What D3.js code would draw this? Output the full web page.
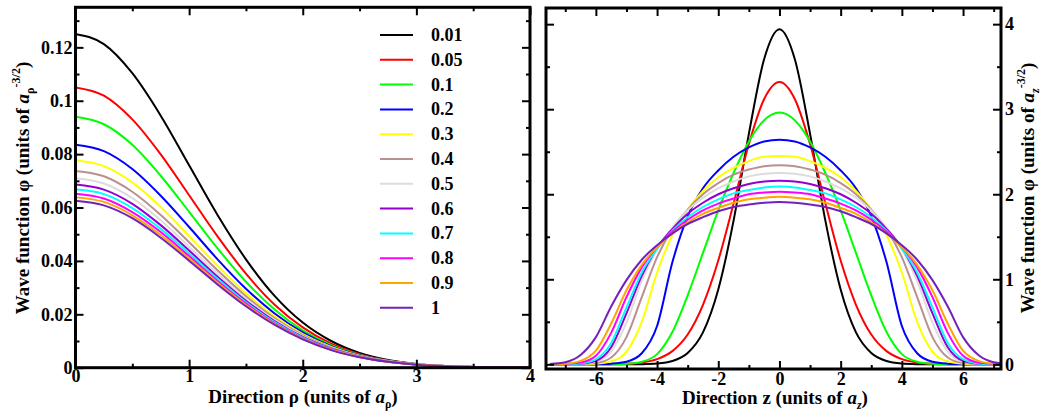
<!DOCTYPE html>
<html lang="en">
<head>
<meta charset="UTF-8">
<title>Wave function profiles</title>
<script src="https://d3js.org/d3.v7.min.js"></script>
<style>
  body { margin: 0; background: #fff; }
  svg text { font-family: "Liberation Serif", "Times New Roman", serif; font-weight: bold; fill: #000; }
</style>
</head>
<body>
<svg width="1041" height="412"></svg>
<script>
// series labels and xmgrace colours
const labels = ["0.01", "0.05", "0.1", "0.2", "0.3", "0.4", "0.5", "0.6", "0.7", "0.8", "0.9", "1"];
const colors = ["#000000", "#ff0000", "#00ff00", "#0000ff", "#ffff00", "#bc8f8f",
                "#dcdcdc", "#9400d3", "#00ffff", "#ff00ff", "#ffa500", "#7221bc"];

// left panel: radial profile, read at rho = 0, 0.25, ... 4
const rhoGrid = [0, 0.25, 0.5, 0.75, 1, 1.25, 1.5, 1.75, 2, 2.25, 2.5, 2.75, 3, 3.25, 3.5, 3.75, 4];
const rho_001 = [0.1250, 0.1212, 0.1103, 0.0944, 0.0758, 0.0572, 0.0406, 0.0270, 0.0169, 0.0100, 0.0055, 0.0029, 0.0014, 0.0006, 0.0003, 0.0001, 0.0000];
const rho_005 = [0.1050, 0.1019, 0.0930, 0.0799, 0.0646, 0.0492, 0.0352, 0.0237, 0.0151, 0.0090, 0.0051, 0.0027, 0.0013, 0.0006, 0.0003, 0.0001, 0.0000];
const rho_01  = [0.0940, 0.0912, 0.0835, 0.0719, 0.0584, 0.0447, 0.0322, 0.0219, 0.0140, 0.0084, 0.0048, 0.0026, 0.0013, 0.0006, 0.0003, 0.0001, 0.0000];
const rho_02  = [0.0835, 0.0811, 0.0744, 0.0644, 0.0527, 0.0406, 0.0296, 0.0204, 0.0132, 0.0081, 0.0047, 0.0026, 0.0013, 0.0006, 0.0003, 0.0001, 0.0001];
const rho_03  = [0.0777, 0.0755, 0.0694, 0.0602, 0.0493, 0.0382, 0.0279, 0.0193, 0.0126, 0.0078, 0.0045, 0.0025, 0.0013, 0.0006, 0.0003, 0.0001, 0.0001];
const rho_04  = [0.0737, 0.0717, 0.0659, 0.0572, 0.0470, 0.0365, 0.0268, 0.0186, 0.0122, 0.0075, 0.0044, 0.0024, 0.0013, 0.0006, 0.0003, 0.0001, 0.0001];
const rho_05  = [0.0710, 0.0690, 0.0635, 0.0552, 0.0453, 0.0352, 0.0259, 0.0180, 0.0118, 0.0073, 0.0043, 0.0024, 0.0013, 0.0006, 0.0003, 0.0001, 0.0001];
const rho_06  = [0.0686, 0.0667, 0.0614, 0.0534, 0.0439, 0.0341, 0.0251, 0.0175, 0.0115, 0.0072, 0.0042, 0.0023, 0.0012, 0.0006, 0.0003, 0.0001, 0.0001];
const rho_07  = [0.0668, 0.0650, 0.0598, 0.0520, 0.0428, 0.0333, 0.0245, 0.0171, 0.0113, 0.0070, 0.0041, 0.0023, 0.0012, 0.0006, 0.0003, 0.0001, 0.0001];
const rho_08  = [0.0652, 0.0634, 0.0583, 0.0508, 0.0418, 0.0325, 0.0240, 0.0167, 0.0110, 0.0069, 0.0040, 0.0022, 0.0012, 0.0006, 0.0003, 0.0001, 0.0001];
const rho_09  = [0.0638, 0.0621, 0.0571, 0.0497, 0.0409, 0.0318, 0.0235, 0.0164, 0.0108, 0.0067, 0.0040, 0.0022, 0.0012, 0.0006, 0.0003, 0.0001, 0.0001];
const rho_1   = [0.0625, 0.0608, 0.0560, 0.0487, 0.0401, 0.0312, 0.0230, 0.0161, 0.0106, 0.0066, 0.0039, 0.0022, 0.0011, 0.0005, 0.0002, 0.0001, 0.0000];

// right panel: axial profile, symmetric, read at z = 0, 0.5, ... 7.5
const zGrid = [0, 0.5, 1, 1.5, 2, 2.5, 3, 3.5, 4, 4.5, 5, 5.5, 6, 6.5, 7, 7.5];
const z_001 = [3.94, 3.59, 2.71, 1.69, 0.88, 0.376, 0.134, 0.039, 0.0096, 0.002, 0, 0, 0, 0, 0, 0];
const z_005 = [3.32, 3.12, 2.59, 1.89, 1.22, 0.70, 0.35, 0.155, 0.061, 0.021, 0.006, 0.002, 0, 0, 0, 0];
const z_01  = [2.96, 2.87, 2.62, 2.25, 1.81, 1.31, 0.81, 0.38, 0.12, 0.03, 0.006, 0, 0, 0, 0, 0];
const z_02  = [2.64, 2.62, 2.55, 2.44, 2.28, 2.07, 1.74, 1.20, 0.45, 0.13, 0.03, 0.008, 0.002, 0, 0, 0];
const z_03  = [2.45, 2.44, 2.39, 2.31, 2.20, 2.04, 1.82, 1.52, 1.08, 0.50, 0.15, 0.035, 0.006, 0, 0, 0];
const z_04  = [2.34, 2.33, 2.29, 2.23, 2.13, 2.00, 1.82, 1.59, 1.26, 0.79, 0.32, 0.08, 0.015, 0.003, 0, 0];
const z_05  = [2.25, 2.24, 2.21, 2.15, 2.07, 1.96, 1.81, 1.61, 1.35, 0.98, 0.49, 0.15, 0.03, 0.006, 0, 0];
const z_06  = [2.16, 2.15, 2.12, 2.07, 2.00, 1.90, 1.77, 1.59, 1.37, 1.04, 0.60, 0.20, 0.04, 0.007, 0, 0];
const z_07  = [2.09, 2.08, 2.05, 2.01, 1.94, 1.85, 1.73, 1.57, 1.36, 1.08, 0.67, 0.25, 0.06, 0.01, 0, 0];
const z_08  = [2.03, 2.02, 2.00, 1.95, 1.89, 1.81, 1.70, 1.56, 1.38, 1.14, 0.79, 0.37, 0.10, 0.02, 0.004, 0];
const z_09  = [1.97, 1.96, 1.94, 1.90, 1.84, 1.77, 1.67, 1.54, 1.38, 1.17, 0.87, 0.48, 0.16, 0.04, 0.007, 0];
const z_1   = [1.91, 1.90, 1.88, 1.85, 1.80, 1.73, 1.65, 1.54, 1.40, 1.23, 0.99, 0.68, 0.32, 0.11, 0.025, 0.005];

// tick values
const rhoTicks = [0, 1, 2, 3, 4], rhoMinor = [0.5, 1.5, 2.5, 3.5];
const phiRhoTicks = [0, 0.02, 0.04, 0.06, 0.08, 0.1, 0.12];
const phiRhoMinor = [0.01, 0.03, 0.05, 0.07, 0.09, 0.11, 0.13];
const zTicks = [-6, -4, -2, 0, 2, 4, 6], zMinor = [-7, -5, -3, -1, 1, 3, 5, 7];
const phiZTicks = [0, 1, 2, 3, 4], phiZMinor = [0.5, 1.5, 2.5, 3.5];

const rhoSeries = [rho_001, rho_005, rho_01, rho_02, rho_03, rho_04, rho_05, rho_06, rho_07, rho_08, rho_09, rho_1];
const zSeries = [z_001, z_005, z_01, z_02, z_03, z_04, z_05, z_06, z_07, z_08, z_09, z_1];

const FONT = "'Liberation Serif', 'Times New Roman', serif";
const svg = d3.select("svg");

// scales
const xL = d3.scaleLinear().domain([0, 4]).range([75.5, 530]);
const yL = d3.scaleLinear().domain([0, 0.135]).range([367.7, 7.3]);
const xR = d3.scaleLinear().domain([-7.63, 7.24]).range([546, 1001]);
const yR = d3.scaleLinear().domain([-0.055, 4.19]).range([369, 8]);

function clip(x, y, id) {
    const [x0, x1] = x.range(), [y0, y1] = y.range();
    svg.append("clipPath").attr("id", id).append("rect")
        .attr("x", x0).attr("y", y1).attr("width", x1 - x0).attr("height", y0 - y1);
}

function axes(x, y, xt, xm, yt, ym, xfmt, yfmt, yLabelsRight, xPad) {
    const [x0, x1] = x.range(), [y0, y1] = y.range();
    const mk = (gen, tr) => {
        const g = svg.append("g").attr("transform", tr).call(gen);
        g.select(".domain").remove();
        g.selectAll("line").attr("stroke", "#000").attr("stroke-width", 2);
        g.selectAll("text").attr("font-family", FONT).attr("font-weight", "bold")
            .attr("font-size", 18).attr("fill", "#000");
        return g;
    };
    mk(d3.axisBottom(x).tickValues(xt).tickSize(-8).tickPadding(xPad).tickFormat(xfmt), `translate(0,${y0})`);
    mk(d3.axisBottom(x).tickValues(xm).tickSize(-4).tickFormat(""), `translate(0,${y0})`);
    mk(d3.axisTop(x).tickValues(xt).tickSize(-8).tickFormat(""), `translate(0,${y1})`);
    mk(d3.axisTop(x).tickValues(xm).tickSize(-4).tickFormat(""), `translate(0,${y1})`);
    mk(d3.axisLeft(y).tickValues(yt).tickSize(-8).tickPadding(3).tickFormat(yLabelsRight ? "" : yfmt), `translate(${x0},0)`);
    mk(d3.axisLeft(y).tickValues(ym).tickSize(-4).tickFormat(""), `translate(${x0},0)`);
    mk(d3.axisRight(y).tickValues(yt).tickSize(-8).tickPadding(4).tickFormat(yLabelsRight ? yfmt : ""), `translate(${x1},0)`);
    mk(d3.axisRight(y).tickValues(ym).tickSize(-4).tickFormat(""), `translate(${x1},0)`);
    svg.append("rect").attr("x", x0).attr("y", y1).attr("width", x1 - x0).attr("height", y0 - y1)
        .attr("fill", "none").attr("stroke", "#000").attr("stroke-width", 3);
}

// left panel curves
clip(xL, yL, "clipL");
const lineL = d3.line().x(d => xL(d[0])).y(d => yL(d[1])).curve(d3.curveMonotoneX);
svg.append("g").attr("clip-path", "url(#clipL)")
    .selectAll("path").data(rhoSeries).join("path")
    .attr("d", s => lineL(rhoGrid.map((r, i) => [r, s[i]])))
    .attr("fill", "none").attr("stroke", (d, i) => colors[i]).attr("stroke-width", 2);

// right panel curves (profile is mirror symmetric in z)
clip(xR, yR, "clipR");
const lineR = d3.line().x(d => xR(d[0])).y(d => yR(d[1])).curve(d3.curveMonotoneX);
const fullZ = s => {
    const neg = zGrid.slice(1).map((z, i) => [-z, s[i + 1]]).reverse();
    return neg.concat(zGrid.map((z, i) => [z, s[i]]));
};
svg.append("g").attr("clip-path", "url(#clipR)")
    .selectAll("path").data(zSeries).join("path")
    .attr("d", s => lineR(fullZ(s)))
    .attr("fill", "none").attr("stroke", (d, i) => colors[i]).attr("stroke-width", 2);

axes(xL, yL, rhoTicks, rhoMinor, phiRhoTicks, phiRhoMinor, d => d, d => +d.toFixed(2), false, 2);
axes(xR, yR, zTicks, zMinor, phiZTicks, phiZMinor, d => d, d => d, true, 3);

// legend
const leg = svg.append("g");
labels.forEach((lab, i) => {
    const yy = 35 + i * 24.8;
    leg.append("line").attr("x1", 380).attr("x2", 413).attr("y1", yy).attr("y2", yy)
        .attr("stroke", colors[i]).attr("stroke-width", 2);
    leg.append("text").attr("x", 431).attr("y", yy + 6).attr("font-size", 18).text(lab);
});

// axis titles
function yTitle(x, y, sub, subItalic) {
    const t = svg.append("text").attr("font-size", 19).attr("text-anchor", "middle")
        .attr("transform", `translate(${x},${y}) rotate(-90)`);
    t.append("tspan").text("Wave function \u03c6 (units of ");
    t.append("tspan").attr("font-style", "italic").text("a");
    t.append("tspan").attr("font-size", 12).attr("dy", 5).attr("font-style", subItalic ? "italic" : "normal").text(sub);
    t.append("tspan").attr("font-size", 12).attr("dy", -14).text("-3/2");
    t.append("tspan").attr("dy", 9).text(")");
}
function xTitle(x, y, dir, sub, subItalic) {
    const t = svg.append("text").attr("font-size", 19).attr("text-anchor", "middle")
        .attr("x", x).attr("y", y);
    t.append("tspan").text(`Direction ${dir} (units of `);
    t.append("tspan").attr("font-style", "italic").text("a");
    t.append("tspan").attr("font-size", 12).attr("dy", 5).attr("font-style", subItalic ? "italic" : "normal").text(sub);
    t.append("tspan").attr("dy", -5).text(")");
}
yTitle(29, 188, "\u03c1", false);
yTitle(1034, 188, "z", true);
xTitle(303, 403, "\u03c1", "\u03c1", false);
xTitle(775, 404, "z", "z", true);
</script>
</body>
</html>
